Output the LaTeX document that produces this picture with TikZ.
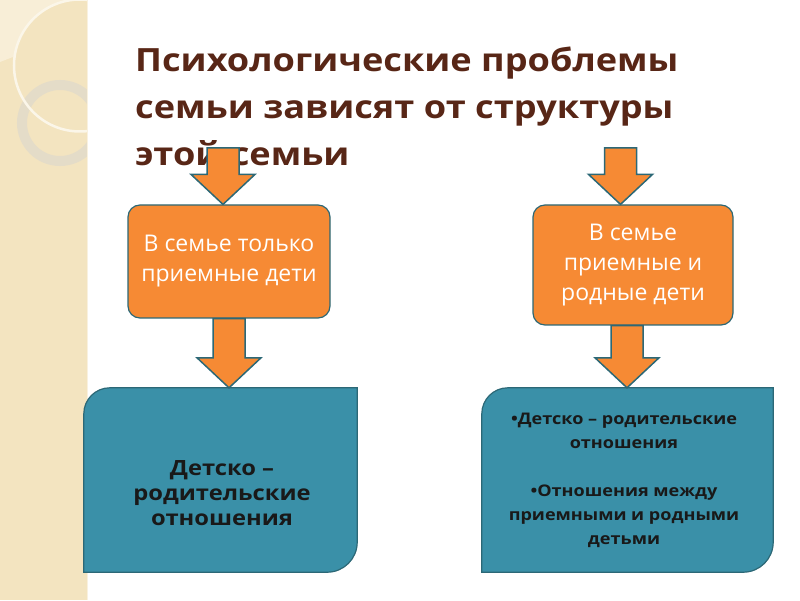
\documentclass[tikz,border=0pt]{standalone}
\usepackage{fontspec}
\setmainfont{Open Sans}
\newfontfamily\famwide[FakeStretch=1.13]{Open Sans}
\usetikzlibrary{calc}
\definecolor{FamStrip}{RGB}{243,228,192}
\definecolor{FamLeaf}{RGB}{248,238,215}
\definecolor{FamRing}{RGB}{228,220,200}
\definecolor{FamTitle}{RGB}{88,38,22}
\definecolor{FamOrange}{RGB}{246,138,52}
\definecolor{FamTeal}{RGB}{58,144,168}
\definecolor{FamEdge}{RGB}{44,104,118}

% block arrow from #1 straight down to the level of #2
\newcommand{\famarrow}[2]{%
  \draw[famarrowstyle] let \p1=(#1), \p2=(#2) in
    (\x1-16pt,\y1) -- (\x1-16pt,\y2+30pt) -- (\x1-32pt,\y2+30pt) -- (\x1,\y2)
    -- (\x1+32pt,\y2+30pt) -- (\x1+16pt,\y2+30pt) -- (\x1+16pt,\y1) -- cycle;}

\begin{document}
\begin{tikzpicture}[x=1pt,y=1pt,
    titletext/.style={text=FamTitle,align=left,inner sep=0pt,font=\famwide\bfseries\fontsize{32}{47}\selectfont},
    orangebox/.style={draw=FamEdge,line width=1.2pt,fill=FamOrange,rounded corners=12pt,text=white,align=center,font=\fontsize{23}{30}\selectfont},
    tealarea/.style={inner sep=0pt},
    tealshape/.style={draw=FamEdge,line width=1.2pt,fill=FamTeal},
    tealtext/.style={text=black!90,align=center,inner sep=0pt},
    famarrowstyle/.style={draw=FamEdge,line width=1.5pt,fill=FamOrange,line join=miter}]
  \useasboundingbox (0,0) rectangle (800,600);
  % side strip with rings
  \fill[FamStrip] (0,0) rectangle (87,600);
  \begin{scope}
    \clip (0,0) rectangle (87,600);
    \fill[FamLeaf] (0,600) -- (72,600) arc[start angle=97,end angle=172,radius=66] -- (0,538) -- cycle;
    \draw[FamRing,line width=10pt] (60,477) circle[radius=38];
    \draw[white!65!FamStrip,line width=2.5pt] (80,534.5) circle[radius=66];
  \end{scope}
  \draw[white!50!FamStrip,line width=1pt] (87,0) -- (87,600);

  \node[titletext,anchor=north west] (title) at (135,553) {Психологические проблемы\\семьи зависят от структуры\\этой семьи};

  \node[orangebox,minimum width=202pt,minimum height=113pt] (famA) at (229,338.5) {В семье только\\приемные дети};
  \node[orangebox,minimum width=200pt,minimum height=120pt] (famB) at (633,335) {В семье\\приемные и\\родные дети};

  \node[tealarea,minimum width=273pt,minimum height=184pt] (relA) at (220.5,120) {};
  \node[tealarea,minimum width=291pt,minimum height=184pt] (relB) at (627.5,120) {};
  \foreach \r in {relA,relB}
    \draw[tealshape] (\r.south west) -- ([yshift=-26pt]\r.north west)
      arc[start angle=180,end angle=90,radius=26pt] -- (\r.north east)
      -- ([yshift=30pt]\r.south east) arc[start angle=0,end angle=-90,radius=30pt] -- cycle;
  \node[tealtext,font=\famwide\bfseries\fontsize{21}{25}\selectfont] (txtA) at (222,107) {Детско –\\родительские\\отношения};
  \node[tealtext,font=\famwide\bfseries\fontsize{16}{24}\selectfont] (txtB) at (624,120) {•Детско – родительские\\отношения\\[24pt]•Отношения между\\приемными и родными\\детьми};

  % arrows
  \coordinate (topA) at (223,452);
  \coordinate (topB) at (620.5,452);
  \coordinate (dropB) at ($(famB.south)+(-6pt,0)$);
  \famarrow{topA}{famA.north}
  \famarrow{topB}{famB.north}
  \famarrow{famA.south}{relA.north}
  \famarrow{dropB}{relB.north}
\end{tikzpicture}
\end{document}
